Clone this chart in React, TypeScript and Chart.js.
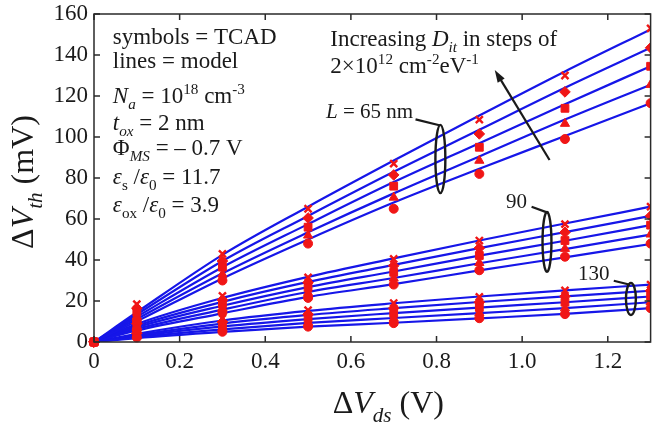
import React, { useEffect, useRef } from 'react';
import { Chart, registerables } from 'chart.js';

Chart.register(...registerables);

// Drain-bias step (V) at which TCAD and model values are given
const vds = [0, 0.1, 0.3, 0.5, 0.7, 0.9, 1.1, 1.3];
const xTicks = [0, 0.2, 0.4, 0.6, 0.8, 1, 1.2];
const yTicks = [0, 20, 40, 60, 80, 100, 120, 140, 160];

// TCAD ΔVth (mV); d0 = lowest Dit ... d4 = highest Dit
const tcad65d0 = [0, 10.5, 30, 48, 65, 82, 99, 116.5];
const tcad65d1 = [0, 12.5, 33, 52, 70.5, 88.5, 106.5, 125.5];
const tcad65d2 = [0, 14.5, 36.5, 56, 76, 95, 114, 134.5];
const tcad65d3 = [0, 16.5, 39.5, 60.5, 81.5, 101.5, 122, 143.5];
const tcad65d4 = [0, 18.5, 43, 65, 87, 108.5, 130, 153];

const tcad90d0 = [0, 6, 14.5, 21.5, 28, 35, 41.6, 48];
const tcad90d1 = [0, 7, 16.5, 24, 31, 38.6, 45.5, 52.5];
const tcad90d2 = [0, 8, 18.5, 26.5, 34, 42.2, 49.5, 57];
const tcad90d3 = [0, 9, 20.5, 29, 37.2, 45.8, 53.5, 61.5];
const tcad90d4 = [0, 10, 22.5, 31.5, 40.5, 49.5, 57.5, 66];

const tcad130d0 = [0, 2.2, 5, 7.5, 9.2, 11.6, 13.6, 16.5];
const tcad130d1 = [0, 2.9, 6.6, 9.5, 11.5, 14.2, 16.5, 19.5];
const tcad130d2 = [0, 3.6, 8.2, 11.5, 14, 16.8, 19.4, 22.3];
const tcad130d3 = [0, 4.3, 9.8, 13.5, 16.5, 19.4, 22.3, 25];
const tcad130d4 = [0, 5, 11.5, 15.5, 19, 22, 25.2, 28];

// Model ΔVth (mV)
const model65d0 = [0, 10.1, 31, 50, 68, 84.5, 100.5, 116.5];
const model65d1 = [0, 11.2, 33.5, 53.5, 72.5, 90.5, 108.5, 125.5];
const model65d2 = [0, 12.3, 36.5, 57.5, 78, 97, 116, 134.5];
const model65d3 = [0, 13.4, 39.5, 61.5, 83, 103.5, 124, 143.5];
const model65d4 = [0, 14.5, 42.5, 66, 88.5, 110.5, 132, 152.5];

const model90d0 = [0, 5.6, 14, 22, 28.2, 34.9, 41.3, 47.8];
const model90d1 = [0, 6.4, 15.8, 24.4, 31.2, 38.4, 45.3, 52.4];
const model90d2 = [0, 7.2, 17.7, 26.8, 34.4, 42.1, 49.4, 57];
const model90d3 = [0, 8, 19.6, 29.3, 37.6, 45.8, 53.6, 61.5];
const model90d4 = [0, 8.8, 21.5, 31.8, 40.8, 49.5, 57.8, 66];

const model130d0 = [0, 1.9, 4.9, 7.5, 9.4, 11.5, 13.7, 16.5];
const model130d1 = [0, 2.4, 6.2, 9.3, 11.7, 14.1, 16.5, 19.4];
const model130d2 = [0, 2.9, 7.6, 11.2, 14.1, 16.8, 19.4, 22.2];
const model130d3 = [0, 3.4, 9, 13.2, 16.5, 19.5, 22.3, 25];
const model130d4 = [0, 4, 10.5, 15.2, 18.9, 22.2, 25.2, 28];

const tcadSets = [
  [tcad65d0, tcad65d1, tcad65d2, tcad65d3, tcad65d4],
  [tcad90d0, tcad90d1, tcad90d2, tcad90d3, tcad90d4],
  [tcad130d0, tcad130d1, tcad130d2, tcad130d3, tcad130d4],
];
const modelSets = [
  [model65d0, model65d1, model65d2, model65d3, model65d4],
  [model90d0, model90d1, model90d2, model90d3, model90d4],
  [model130d0, model130d1, model130d2, model130d3, model130d4],
];

const RED = 'rgb(240,22,22)';
const BLUE = 'rgb(22,22,232)';
const INK = '#1a1a1a';
const SERIF = '"Liberation Serif", "Times New Roman", serif';

// marker per Dit step: circle, triangle, square, diamond, x
const markerStyles = [
  { pointStyle: 'circle', pointRadius: 4.5 },
  { pointStyle: 'triangle', pointRadius: 5.3 },
  { pointStyle: 'rect', pointRadius: 5.5 },
  { pointStyle: 'rectRot', pointRadius: 5.3 },
  { pointStyle: 'crossRot', pointRadius: 5 },
];

type Seg = { t: string; i?: boolean; sub?: boolean; sup?: boolean };

function segFont(s: Seg, size: number) {
  const sz = s.sub || s.sup ? size * 0.66 : size;
  return `${s.i ? 'italic ' : ''}${sz}px ${SERIF}`;
}

function richWidth(ctx: CanvasRenderingContext2D, segs: Seg[], size: number) {
  let w = 0;
  for (const s of segs) {
    ctx.font = segFont(s, size);
    w += ctx.measureText(s.t).width;
  }
  return w;
}

function drawRich(
  ctx: CanvasRenderingContext2D,
  segs: Seg[],
  x: number,
  y: number,
  size: number,
  align: 'left' | 'center' = 'left'
) {
  let cx = align === 'center' ? x - richWidth(ctx, segs, size) / 2 : x;
  ctx.textAlign = 'left';
  ctx.textBaseline = 'alphabetic';
  for (const s of segs) {
    ctx.font = segFont(s, size);
    const dy = s.sub ? size * 0.27 : s.sup ? -size * 0.38 : 0;
    ctx.fillText(s.t, cx, y + dy);
    cx += ctx.measureText(s.t).width;
  }
}

// Parameter block, anchored in data units (V, mV)
const paramX = 0.044;
const paramLines: { y: number; segs: Seg[] }[] = [
  { y: 145.5, segs: [{ t: 'symbols = TCAD' }] },
  { y: 133.5, segs: [{ t: 'lines = model' }] },
  {
    y: 116.6,
    segs: [
      { t: 'N', i: true }, { t: 'a', i: true, sub: true }, { t: ' = 10' },
      { t: '18', sup: true }, { t: ' cm' }, { t: '-3', sup: true },
    ],
  },
  { y: 103.4, segs: [{ t: 't', i: true }, { t: 'ox', i: true, sub: true }, { t: ' = 2 nm' }] },
  { y: 91.2, segs: [{ t: 'Φ' }, { t: 'MS', i: true, sub: true }, { t: ' = – 0.7 V' }] },
  {
    y: 77.1,
    segs: [
      { t: 'ε', i: true }, { t: 's', sub: true }, { t: ' /' },
      { t: 'ε', i: true }, { t: '0', sub: true }, { t: ' = 11.7' },
    ],
  },
  {
    y: 63.4,
    segs: [
      { t: 'ε', i: true }, { t: 'ox', sub: true }, { t: ' /' },
      { t: 'ε', i: true }, { t: '0', sub: true }, { t: ' = 3.9' },
    ],
  },
];

const ditX = 0.552;
const ditLines: { y: number; segs: Seg[] }[] = [
  {
    y: 144.4,
    segs: [{ t: 'Increasing ' }, { t: 'D', i: true }, { t: 'it', i: true, sub: true }, { t: ' in steps of' }],
  },
  {
    y: 131.2,
    segs: [
      { t: '2×10' }, { t: '12', sup: true }, { t: ' cm' }, { t: '-2', sup: true },
      { t: 'eV' }, { t: '-1', sup: true },
    ],
  },
];
const arrowFrom = { x: 1.064, y: 88.8 };
const arrowTo = { x: 0.936, y: 132.7 };

// Group labels with leader and ellipse (data units)
const groups = [
  {
    label: [{ t: 'L', i: true }, { t: ' = 65 nm' }] as Seg[],
    labelX: 0.542, labelY: 109.3, align: 'left' as const,
    lead: [0.751, 108.6, 0.809, 105.6],
    ell: { x: 0.809, y: 89.3, rx: 0.0116, ry: 16.6 },
  },
  {
    label: [{ t: '90' }] as Seg[],
    labelX: 0.987, labelY: 65.2, align: 'center' as const,
    lead: [1.022, 66.0, 1.061, 63.0],
    ell: { x: 1.058, y: 48.8, rx: 0.0104, ry: 14.6 },
  },
  {
    label: [{ t: '130' }] as Seg[],
    labelX: 1.167, labelY: 30.2, align: 'center' as const,
    lead: [1.214, 29.9, 1.252, 27.9],
    ell: { x: 1.254, y: 21, rx: 0.0116, ry: 7.8 },
  },
];

const overlay = {
  id: 'overlay',
  afterDatasetsDraw(chart: any) {
    const { ctx, chartArea: a, scales } = chart;
    const xs = scales.x;
    const ys = scales.y;
    const px = (v: number) => xs.getPixelForValue(v);
    const py = (v: number) => ys.getPixelForValue(v);
    ctx.save();

    // frame with inward ticks on all sides
    ctx.strokeStyle = '#2a2a2a';
    ctx.lineWidth = 1.5;
    ctx.strokeRect(a.left, a.top, a.right - a.left, a.bottom - a.top);
    ctx.beginPath();
    for (const v of xTicks) {
      const p = px(v);
      ctx.moveTo(p, a.bottom); ctx.lineTo(p, a.bottom - 6);
      ctx.moveTo(p, a.top); ctx.lineTo(p, a.top + 6);
    }
    for (const v of yTicks) {
      const p = py(v);
      ctx.moveTo(a.left, p); ctx.lineTo(a.left + 6, p);
      ctx.moveTo(a.right, p); ctx.lineTo(a.right - 6, p);
    }
    ctx.stroke();

    ctx.fillStyle = INK;
    for (const l of paramLines) drawRich(ctx, l.segs, px(paramX), py(l.y), 23);
    for (const l of ditLines) drawRich(ctx, l.segs, px(ditX), py(l.y), 23);

    // arrow
    const x0 = px(arrowFrom.x), y0 = py(arrowFrom.y);
    const x1 = px(arrowTo.x), y1 = py(arrowTo.y);
    const ang = Math.atan2(y1 - y0, x1 - x0);
    const head = 13;
    ctx.strokeStyle = INK;
    ctx.lineWidth = 2.2;
    ctx.beginPath();
    ctx.moveTo(x0, y0);
    ctx.lineTo(x1 - Math.cos(ang) * head * 0.8, y1 - Math.sin(ang) * head * 0.8);
    ctx.stroke();
    ctx.beginPath();
    ctx.moveTo(x1, y1);
    ctx.lineTo(x1 - head * Math.cos(ang - 0.32), y1 - head * Math.sin(ang - 0.32));
    ctx.lineTo(x1 - head * Math.cos(ang + 0.32), y1 - head * Math.sin(ang + 0.32));
    ctx.closePath();
    ctx.fill();

    // group labels
    for (const g of groups) {
      ctx.fillStyle = INK;
      drawRich(ctx, g.label, px(g.labelX), py(g.labelY), 21, g.align);
      ctx.strokeStyle = INK;
      ctx.lineWidth = 2.2;
      ctx.beginPath();
      ctx.moveTo(px(g.lead[0]), py(g.lead[1]));
      ctx.lineTo(px(g.lead[2]), py(g.lead[3]));
      ctx.stroke();
      const cx = px(g.ell.x), cy = py(g.ell.y);
      const rx = Math.abs(px(g.ell.x + g.ell.rx) - cx);
      const ry = Math.abs(py(g.ell.y + g.ell.ry) - cy);
      ctx.lineWidth = 2.4;
      ctx.beginPath();
      ctx.ellipse(cx, cy, rx, ry, 0, 0, Math.PI * 2);
      ctx.stroke();
    }

    // axis titles
    ctx.fillStyle = INK;
    drawRich(
      ctx,
      [{ t: 'Δ' }, { t: 'V', i: true }, { t: 'ds', i: true, sub: true }, { t: ' (V)' }],
      (a.left + a.right) / 2 + 16,
      413,
      32,
      'center'
    );
    ctx.save();
    ctx.translate(33, (a.top + a.bottom) / 2 + 4);
    ctx.rotate(-Math.PI / 2);
    drawRich(
      ctx,
      [{ t: 'Δ' }, { t: 'V', i: true }, { t: 'th', i: true, sub: true }, { t: ' (mV)' }],
      0,
      0,
      32,
      'center'
    );
    ctx.restore();

    ctx.restore();
  },
};

function buildDatasets() {
  const sets: any[] = [];
  modelSets.forEach((group) => {
    group.forEach((vals) => {
      sets.push({
        data: vds.map((x, i) => ({ x, y: vals[i] })),
        showLine: true,
        borderColor: BLUE,
        backgroundColor: BLUE,
        borderWidth: 2.2,
        pointRadius: 0,
        cubicInterpolationMode: 'monotone',
        clip: 0,
        order: 2,
      });
    });
  });
  tcadSets.forEach((group) => {
    group.forEach((vals, k) => {
      const m = markerStyles[k];
      const isCross = m.pointStyle === 'crossRot';
      sets.push({
        data: vds.map((x, i) => ({ x, y: vals[i] })),
        showLine: false,
        pointStyle: m.pointStyle,
        pointRadius: m.pointRadius,
        borderColor: RED,
        backgroundColor: RED,
        borderWidth: isCross ? 2.4 : 1,
        clip: { left: 6, bottom: 6, top: 0, right: 0 },
        order: 1,
      });
    });
  });
  return sets;
}

export default function App() {
  const ref = useRef<HTMLCanvasElement>(null);

  useEffect(() => {
    if (!ref.current) return;
    const tickFont = { family: SERIF, size: 23 };
    const chart = new Chart(ref.current, {
      type: 'scatter',
      data: { datasets: buildDatasets() },
      options: {
        responsive: false,
        animation: false,
        devicePixelRatio: 1,
        layout: { padding: { top: 14, right: 3, bottom: 0, left: 0 } },
        plugins: { legend: { display: false }, tooltip: { enabled: false } },
        scales: {
          x: {
            type: 'linear',
            min: 0,
            max: 1.3,
            afterBuildTicks: (s: any) => {
              s.ticks = xTicks.map((v) => ({ value: v }));
            },
            afterFit: (s: any) => {
              s.height = 84;
              s.paddingLeft = 0;
              s.paddingRight = 0;
            },
            grid: { display: false, drawTicks: false },
            border: { display: false },
            ticks: { font: tickFont, color: INK, padding: 6, maxRotation: 0, autoSkip: false },
          },
          y: {
            type: 'linear',
            min: 0,
            max: 160,
            afterBuildTicks: (s: any) => {
              s.ticks = yTicks.map((v) => ({ value: v }));
            },
            afterFit: (s: any) => {
              s.width = 94;
              s.paddingTop = 0;
              s.paddingBottom = 0;
            },
            grid: { display: false, drawTicks: false },
            border: { display: false },
            ticks: { font: tickFont, color: INK, padding: 6, autoSkip: false },
          },
        },
      },
      plugins: [overlay],
    });
    return () => chart.destroy();
  }, []);

  return (
    <div style={{ position: 'fixed', left: 0, top: 0, width: 658, height: 426, background: '#fff' }}>
      <canvas ref={ref} width={658} height={426} style={{ display: 'block', width: 658, height: 426 }} />
    </div>
  );
}
